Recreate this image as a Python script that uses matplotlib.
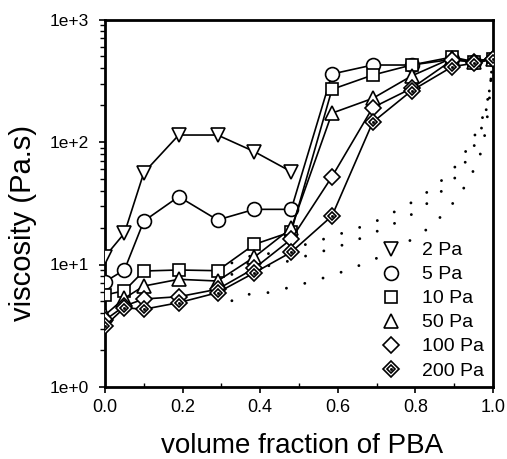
import matplotlib
matplotlib.use('Agg')
import matplotlib.pyplot as plt
from matplotlib.legend_handler import HandlerTuple
from matplotlib.ticker import FixedLocator, NullFormatter

plt.rcParams['font.family'] = ['Liberation Sans', 'DejaVu Sans']

# ---- data -------------------------------------------------------------
x_pba = [0.0, 0.05, 0.10, 0.19, 0.29, 0.385, 0.48, 0.585, 0.69, 0.79, 0.895, 0.95, 1.0]
x_2pa = [0.0, 0.05, 0.10, 0.19, 0.29, 0.385, 0.48]
visc_2pa = [11.6, 18.0, 56.1, 114, 114, 83.4, 57.2]
visc_5pa = [7.24, 9.02, 22.6, 35.8, 23.1, 28.2, 28.2, 359, 425, 425, 473, 453, 480]
visc_10pa = [5.64, 6.11, 8.85, 9.02, 8.90, 14.6, 18.5, 269, 352, 425, 494, 453, 480]
visc_50pa = [3.87, 5.30, 6.67, 7.57, 7.33, 11.5, 19.8, 172, 227, 346, 485, 450, 480]
visc_100pa = [3.52, 4.58, 5.23, 5.46, 6.28, 9.31, 16.1, 52.1, 191, 274, 467, 450, 480]
visc_200pa = [3.15, 4.44, 4.31, 4.88, 5.89, 8.57, 12.6, 24.9, 145, 262, 412, 439, 473]

# dotted model curves
curveA_x = [0.327, 0.374, 0.424, 0.530, 0.584, 0.637, 0.693, 0.747, 0.802, 0.856, 0.907, 0.943, 0.969, 0.985, 0.994, 1.0]
curveA_y = [10.3, 11.7, 12.3, 14.9, 16.9, 19.1, 22.1, 27.0, 33.6, 44.6, 64.9, 97.5, 144, 211, 311, 480]
curveB_x = [0.327, 0.475, 0.528, 0.582, 0.637, 0.690, 0.743, 0.799, 0.853, 0.905, 0.939, 0.966, 0.981, 0.990, 1.0]
curveB_y = [8.3, 10.7, 12.0, 13.4, 15.3, 18.0, 21.4, 26.5, 35.8, 52.1, 77.3, 116, 172, 253, 480]
curveC_x = [0.327, 0.356, 0.401, 0.449, 0.497, 0.545, 0.593, 0.640, 0.687, 0.782, 0.829, 0.876, 0.915, 0.943, 0.965, 0.977, 0.984, 0.990, 0.994, 1.0]
curveC_y = [5.06, 5.71, 5.71, 6.19, 6.76, 7.47, 8.29, 9.42, 10.7, 15.4, 19.3, 26.3, 37.3, 52.8, 74.7, 105, 149, 209, 311, 480]

labels = ["2 Pa", "5 Pa", "10 Pa", "50 Pa", "100 Pa", "200 Pa"]
xtick_vals = [0.0, 0.2, 0.4, 0.6, 0.8, 1.0]
xtick_labels = ["0.0", "0.2", "0.4", "0.6", "0.8", "1.0"]
ytick_vals = [1, 10, 100, 1000]
ytick_labels = ["1e+0", "1e+1", "1e+2", "1e+3"]

# ---- figure -----------------------------------------------------------
fig = plt.figure(figsize=(5.07, 4.59), dpi=100)
ax = fig.add_axes([105/507, 1 - 387/459, 388/507, 367.5/459])
ax.set_yscale('log')
ax.set_xlim(0, 1.0)
ax.set_ylim(1, 1000)

# dotted curves
dot_style = dict(color='black', lw=2.1, linestyle=(0, (0.01, 6.5)),
                 dash_capstyle='round', zorder=1)
for cx, cy in [(curveA_x, curveA_y), (curveB_x, curveB_y), (curveC_x, curveC_y)]:
    ax.plot(cx, cy, **dot_style)

common = dict(color='black', lw=1.2, mfc='white', mec='black', mew=1.2, zorder=3)
h2, = ax.plot(x_2pa, visc_2pa, marker='v', ms=9.5, **common)
h5, = ax.plot(x_pba, visc_5pa, marker='o', ms=10, **common)
h10, = ax.plot(x_pba, visc_10pa, marker='s', ms=8.5, **common)
h50, = ax.plot(x_pba, visc_50pa, marker='^', ms=9.5, **common)
h100, = ax.plot(x_pba, visc_100pa, marker='D', ms=7.8, **common)
h200a, = ax.plot(x_pba, visc_200pa, marker='D', ms=7.8, **common)
h200b, = ax.plot(x_pba, visc_200pa, marker='D', ms=3.8, ls='none', mfc='white',
                 mec='black', mew=1.2, zorder=4)
h200c, = ax.plot(x_pba, visc_200pa, marker='o', ms=1.6, ls='none', mfc='black',
                 mec='black', mew=0.5, zorder=5)

leg = ax.legend([h2, h5, h10, h50, h100, (h200a, h200b, h200c)], labels,
                handler_map={tuple: HandlerTuple(ndivide=1)},
                loc='lower right', bbox_to_anchor=(1.01, -0.014), frameon=False,
                fontsize=14, handlelength=1.0, handletextpad=1.1,
                labelspacing=0.33, borderpad=0.35, borderaxespad=0.3)
for lh in leg.get_lines():
    lh.set_linestyle('none')

# axes styling
for sp in ax.spines.values():
    sp.set_linewidth(2.0)
ax.set_xticks(xtick_vals)
ax.set_xticklabels(xtick_labels)
ax.xaxis.set_minor_locator(FixedLocator([0.1, 0.3, 0.5, 0.7, 0.9]))
ax.tick_params(axis='x', which='major', direction='out', length=4, width=1.2,
               labelsize=13, pad=5)
ax.tick_params(axis='x', which='minor', direction='in', length=3, width=1.0)
ax.set_yticks(ytick_vals)
ax.set_yticklabels(ytick_labels)
ax.yaxis.set_minor_formatter(NullFormatter())
ax.tick_params(axis='y', which='major', direction='out', length=4, width=1.2,
               labelsize=12.5, pad=7.5)
ax.tick_params(axis='y', which='minor', direction='out', length=3.5, width=1.0)

ax.set_xlabel('volume fraction of PBA', fontsize=20)
ax.xaxis.label.set_va('center')
ax.xaxis.set_label_coords(0.508, -0.16)
ax.set_ylabel('viscosity (Pa.s)', fontsize=21)
ax.yaxis.label.set_va('center')
ax.yaxis.set_label_coords(-0.212, 0.446)

fig.savefig('out.png', dpi=100)
